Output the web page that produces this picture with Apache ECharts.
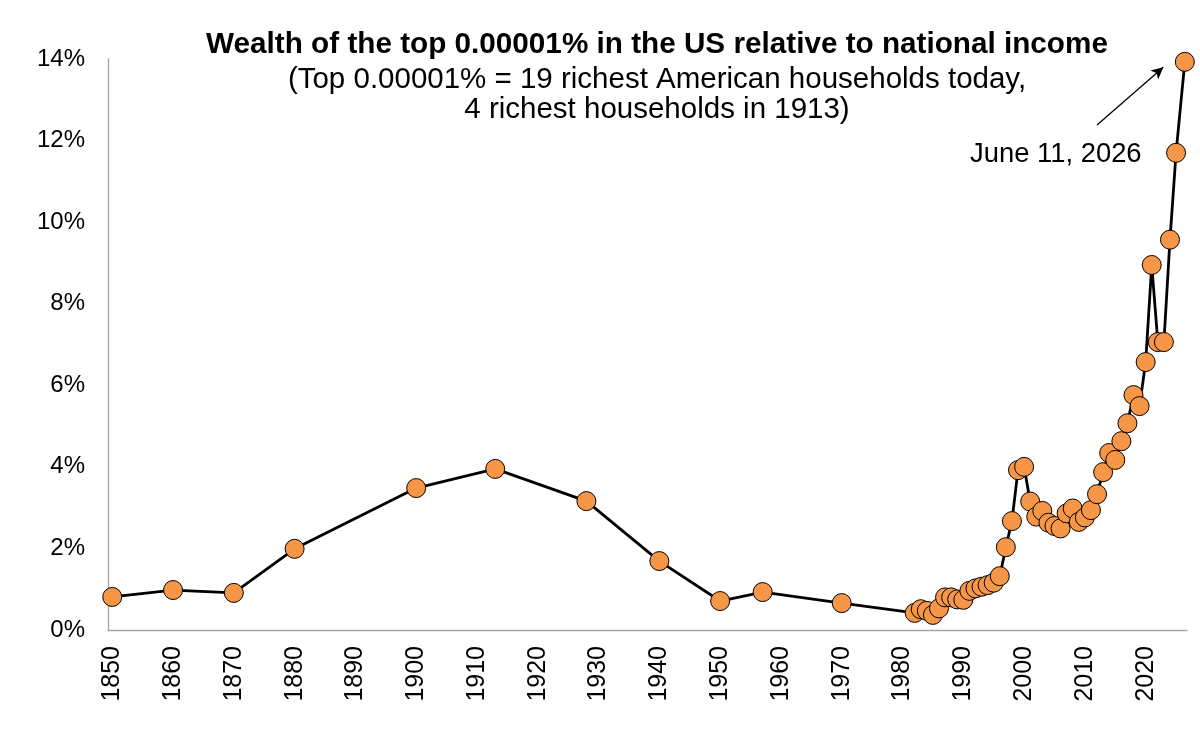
<!DOCTYPE html>
<html>
<head>
<meta charset="utf-8">
<script src="https://cdn.jsdelivr.net/npm/echarts@6/dist/echarts.min.js"></script>
<style>
  html, body { margin: 0; padding: 0; background: #fff; }
  #chart { width: 1200px; height: 733px; }
</style>
</head>
<body>
<div id="chart"></div>
<script>
// years (2026 = June 11, 2026)
var years = [1850, 1860, 1870, 1880, 1900, 1913, 1928, 1940, 1950, 1957, 1970,
  1982, 1983, 1984, 1985, 1986, 1987, 1988, 1989, 1990, 1991, 1992, 1993, 1994, 1995, 1996,
  1997, 1998, 1999, 2000, 2001, 2002, 2003, 2004, 2005, 2006, 2007, 2008, 2009, 2010,
  2011, 2012, 2013, 2014, 2015, 2016, 2017, 2018, 2019, 2020, 2021, 2022, 2023, 2024, 2025, 2026.44];
// wealth of top 0.00001% as % of national income
var wealthShare = [0.81, 0.98, 0.91, 1.99, 3.48, 3.95, 3.16, 1.69, 0.71, 0.93, 0.66,
  0.42, 0.51, 0.47, 0.37, 0.53, 0.80, 0.80, 0.75, 0.74, 0.96, 1.02, 1.06, 1.10, 1.16, 1.32,
  2.03, 2.67, 3.92, 4.00, 3.15, 2.78, 2.92, 2.63, 2.55, 2.49, 2.86, 2.98, 2.65, 2.76,
  2.94, 3.33, 3.87, 4.34, 4.17, 4.63, 5.07, 5.76, 5.49, 6.57, 8.95, 7.06, 7.06, 9.57, 11.70, 13.93];
var xLabels = [1850, 1860, 1870, 1880, 1890, 1900, 1910, 1920, 1930, 1940, 1950, 1960, 1970, 1980, 1990, 2000, 2010, 2020];

var seriesData = years.map(function (y, i) { return [y, wealthShare[i]]; });

var myChart = echarts.init(document.getElementById('chart'));

var option = {
    animation: false,
    backgroundColor: '#fff',
    title: [{
        text: 'Wealth of the top 0.00001% in the US relative to national income',
        left: 652,
        top: 25,
        textAlign: 'center',
        textStyle: {
            fontFamily: 'Liberation Sans, Arial, sans-serif',
            fontSize: 29.7,
            fontWeight: 'bold',
            color: '#000'
        }
    }, {
        text: '(Top 0.00001% = 19 richest American households today,\n4 richest households in 1913)',
        left: 652,
        top: 60,
        textAlign: 'center',
        textStyle: {
            fontFamily: 'Liberation Sans, Arial, sans-serif',
            fontSize: 29.5,
            fontWeight: 'normal',
            lineHeight: 30,
            align: 'center',
            color: '#000'
        }
    }],
    grid: {
        left: 108,
        right: 13,
        top: 59,
        bottom: 103
    },
    xAxis: {
        type: 'value',
        min: 1849.3,
        max: 2026.8,
        splitLine: { show: false },
        axisTick: { show: false },
        axisLine: { lineStyle: { color: '#a6a6a6', width: 1.3 } },
        axisLabel: {
            customValues: xLabels,
            formatter: function (v) { return String(v); },
            rotate: 90,
            margin: 16,
            fontFamily: 'Liberation Sans, Arial, sans-serif',
            fontSize: 25,
            color: '#000'
        }
    },
    yAxis: {
        type: 'value',
        min: 0,
        max: 14,
        interval: 2,
        splitLine: { show: false },
        axisTick: { show: false },
        axisLine: { show: true, lineStyle: { color: '#a6a6a6', width: 1.3 } },
        axisLabel: {
            formatter: '{value}%',
            margin: 23,
            fontFamily: 'Liberation Sans, Arial, sans-serif',
            fontSize: 24,
            color: '#000'
        }
    },
    series: [{
        type: 'line',
        data: seriesData,
        symbol: 'circle',
        symbolSize: 19,
        showAllSymbol: true,
        lineStyle: { color: '#000', width: 2.8 },
        itemStyle: { color: '#f79646', borderColor: '#000', borderWidth: 1 },
        markLine: {
            silent: true,
            symbol: ['none', 'arrow'],
            symbolSize: [9, 12],
            label: { show: false },
            lineStyle: { color: '#000', width: 1.3, type: 'solid' },
            data: [[{ coord: [2012, 12.38] }, { coord: [2022.9, 13.8] }]]
        }
    }],
    graphic: [{
        type: 'text',
        left: 970,
        top: 141,
        style: {
            text: 'June 11, 2026',
            fontFamily: 'Liberation Sans, Arial, sans-serif',
            fontSize: 27.4,
            fill: '#000'
        }
    }]
};

myChart.setOption(option);
</script>
</body>
</html>
